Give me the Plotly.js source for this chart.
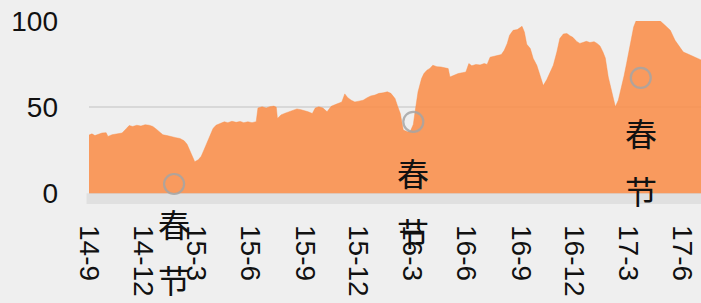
<!DOCTYPE html>
<html>
<head>
<meta charset="utf-8">
<script src="https://cdn.plot.ly/plotly-3.0.1.min.js"></script>
<style>
  html, body { margin: 0; padding: 0; background: #efefef; }
  #chart { width: 701px; height: 303px; }
</style>
</head>
<body>
<div id="chart"></div>
<script>
// ---- data ----
const dates = [
  '2014-09-01','2014-09-06','2014-09-11','2014-09-16','2014-09-23','2014-09-30','2014-10-03','2014-10-10','2014-10-18','2014-10-27',
  '2014-11-03','2014-11-08','2014-11-14','2014-11-21','2014-11-28','2014-12-05','2014-12-12','2014-12-18','2014-12-23','2014-12-30',
  '2015-01-04','2015-01-11','2015-01-20','2015-01-26','2015-02-02','2015-02-09','2015-02-14','2015-02-19','2015-02-24','2015-02-27',
  '2015-03-05','2015-03-10','2015-03-15','2015-03-20','2015-03-25','2015-03-30','2015-04-04','2015-04-11','2015-04-18','2015-04-24',
  '2015-05-01','2015-05-08','2015-05-15','2015-05-21','2015-05-28','2015-06-04','2015-06-11','2015-06-14','2015-06-21','2015-06-28',
  '2015-07-04','2015-07-11','2015-07-15','2015-07-17','2015-07-23','2015-07-30','2015-08-06','2015-08-12','2015-08-19','2015-08-26',
  '2015-09-02','2015-09-07','2015-09-14','2015-09-19','2015-09-25','2015-10-02','2015-10-09','2015-10-16','2015-10-23','2015-10-29',
  '2015-11-03','2015-11-08','2015-11-13','2015-11-19','2015-11-25','2015-12-02','2015-12-09','2015-12-16','2015-12-22','2015-12-29',
  '2016-01-05','2016-01-12','2016-01-19','2016-01-25','2016-02-01','2016-02-06','2016-02-10','2016-02-15','2016-02-22','2016-02-27',
  '2016-03-03','2016-03-06','2016-03-11','2016-03-17','2016-03-21','2016-03-26','2016-03-31','2016-04-05','2016-04-12','2016-04-19',
  '2016-04-26','2016-05-01','2016-05-04','2016-05-11','2016-05-18','2016-05-25','2016-05-31','2016-06-05','2016-06-10','2016-06-17',
  '2016-06-24','2016-07-01','2016-07-06','2016-07-11','2016-07-18','2016-07-24','2016-07-30','2016-08-04','2016-08-09','2016-08-13',
  '2016-08-19','2016-08-26','2016-08-31','2016-09-03','2016-09-07','2016-09-11','2016-09-17','2016-09-22','2016-09-28','2016-10-04',
  '2016-10-09','2016-10-15','2016-10-21','2016-10-26','2016-11-01','2016-11-06','2016-11-12','2016-11-18','2016-11-23','2016-11-28',
  '2016-12-05','2016-12-10','2016-12-15','2016-12-21','2016-12-27','2017-01-03','2017-01-08','2017-01-13','2017-01-18','2017-01-22',
  '2017-01-27','2017-02-02','2017-02-08','2017-02-13','2017-02-19','2017-02-23','2017-02-27','2017-03-05','2017-03-11','2017-03-15',
  '2017-03-22','2017-03-30','2017-04-08','2017-04-16','2017-04-25','2017-05-03','2017-05-12','2017-05-20','2017-05-29','2017-06-03',
  '2017-06-09','2017-06-16','2017-06-23','2017-07-02','2017-07-07'
];
const values = [
  33.8, 34.5, 33.5, 34.0, 35.0, 35.2, 33.0, 34.0, 34.5, 35.0,
  37.5, 39.3, 38.8, 39.5, 39.0, 39.8, 39.5, 38.8, 37.5, 35.5,
  34.0, 33.5, 33.0, 32.3, 31.8, 30.5, 28.5, 24.5, 20.5, 18.3,
  19.5, 21.5, 25.5, 29.5, 34.0, 37.6, 39.5, 40.5, 41.5, 41.0,
  41.8, 41.2, 41.7, 41.0, 41.5, 41.0, 41.6, 49.5, 50.2, 49.5,
  50.3, 50.6, 50.0, 43.4, 45.5, 46.5, 47.5, 48.3, 49.0, 48.5,
  48.0, 47.3, 46.3, 49.5, 50.2, 49.5, 47.3, 50.5, 51.5, 52.5,
  53.0, 57.7, 55.5, 54.0, 53.0, 53.5, 54.0, 55.5, 56.5, 57.0,
  58.0, 58.3, 58.9, 58.0, 55.0, 50.0, 46.3, 36.7, 35.7, 36.0,
  40.0, 47.3, 58.9, 66.6, 69.5, 71.4, 72.5, 74.3, 73.5, 73.3,
  72.8, 72.4, 67.5, 68.5, 69.5, 70.0, 70.4, 75.3, 74.0, 74.8,
  74.5, 75.3, 74.8, 79.0, 79.5, 80.0, 80.5, 83.0, 87.0, 91.7,
  94.6, 95.0, 96.5, 96.9, 93.6, 86.5, 84.0, 78.2, 74.3, 68.5,
  62.5, 66.0, 70.4, 74.3, 82.0, 89.8, 92.5, 92.7, 91.5, 90.5,
  88.0, 87.0, 87.5, 88.2, 87.5, 88.0, 87.0, 85.5, 82.0, 78.5,
  67.5, 57.9, 50.2, 54.0, 61.8, 68.5, 75.3, 86.9, 96.5, 100.0,
  100.5, 101.0, 100.8, 100.5, 100.0, 97.5, 94.6, 88.8, 84.0, 82.0,
  81.1, 80.0, 79.0, 77.2, 76.8
];
const tickDates = ['2014-09-01','2014-12-01','2015-03-01','2015-06-01','2015-09-01','2015-12-01',
                   '2016-03-01','2016-06-01','2016-09-01','2016-12-01','2017-03-01','2017-06-01'];
const tickLabels = ['14-9','14-12','15-3','15-6','15-9','15-12','16-3','16-6','16-9','16-12','17-3','17-6'];
const yTicks = [0, 50, 100];
const festivalDates = ['2015-01-23','2016-03-03','2017-03-23'];
const festivalValues = [5.4, 41.5, 67.0];
const festivalChars = ['春','节'];

// ---- chart ----
const area = {
  type: 'scatter', mode: 'lines',
  x: dates, y: values,
  fill: 'tozeroy',
  fillcolor: 'rgba(250,140,70,0.86)',
  line: { color: 'rgba(250,140,70,0.86)', width: 0.5 },
  hoverinfo: 'skip'
};
const rings = {
  type: 'scatter', mode: 'markers',
  x: festivalDates, y: festivalValues,
  marker: { symbol: 'circle-open', size: 20, color: 'rgba(165,165,165,0.85)', line: { width: 2.2 } },
  hoverinfo: 'skip'
};

const shifts = [[-39, -95], [-50, -110], [-54, -112]];
const annotations = [];
festivalDates.forEach((d, i) => {
  festivalChars.forEach((ch, j) => {
    annotations.push({
      x: d, y: festivalValues[i], xref: 'x', yref: 'y',
      text: ch, showarrow: false, yshift: shifts[i][j],
      font: { family: 'Noto Sans CJK SC', size: 32, color: '#111' }
    });
  });
});

const layout = {
  width: 701, height: 303,
  margin: { l: 89, r: 0, t: 21, b: 99 },
  paper_bgcolor: '#efefef',
  plot_bgcolor: 'rgba(0,0,0,0)',
  showlegend: false,
  xaxis: {
    type: 'date',
    range: ['2014-09-01', '2017-07-03'],
    tickvals: tickDates, ticktext: tickLabels,
    tickangle: 90,
    showgrid: false, zeroline: false, showline: false, ticks: '',
    ticklabelstandoff: 20,
    tickfont: { family: 'Liberation Sans, Arial, sans-serif', size: 28, color: '#111' }
  },
  yaxis: {
    range: [-6.2, 100],
    tickvals: yTicks,
    showgrid: true, gridcolor: '#d8d8d8', gridwidth: 1.5,
    zeroline: false, showline: false, ticks: '',
    ticklabelstandoff: 30,
    tickfont: { family: 'Liberation Sans, Arial, sans-serif', size: 28, color: '#111' }
  },
  shapes: [{
    type: 'rect', xref: 'paper', yref: 'y', layer: 'below',
    x0: -0.004, x1: 1, y0: -6.2, y1: 0,
    fillcolor: '#e0e0e0', line: { width: 0 }
  }],
  annotations: annotations
};

Plotly.newPlot('chart', [area, rings], layout, { staticPlot: true, displayModeBar: false });
</script>
</body>
</html>
